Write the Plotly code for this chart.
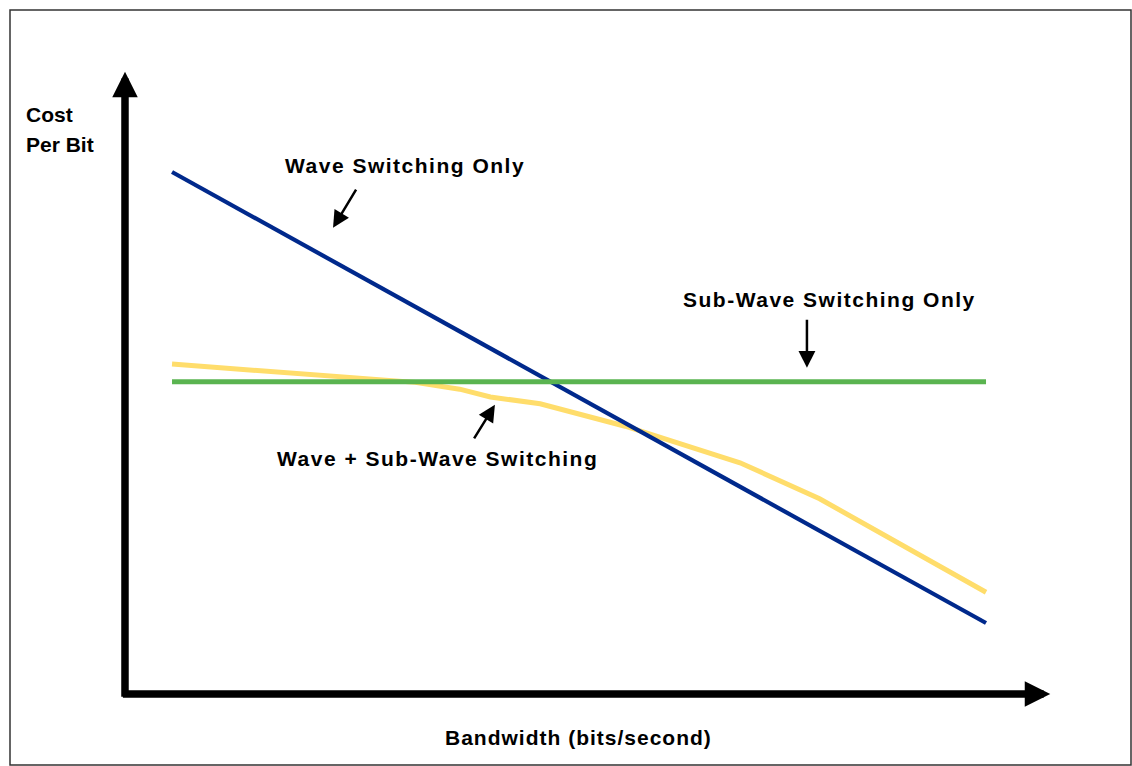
import plotly.graph_objects as go

# ---- data (conceptual units: bandwidth on x, cost per bit on y) ----
bandwidth_wave = [1.0, 10.0]
cost_wave = [10.0, 1.36]

bandwidth_sub = [1.0, 10.0]
cost_sub = [5.98, 5.98]

bandwidth_mixed = [1.0, 3.69, 4.18, 4.52, 5.07, 6.01, 7.28, 8.16, 10.0]
cost_mixed = [6.32, 5.97, 5.84, 5.69, 5.56, 5.13, 4.43, 3.74, 1.95]

label_wave = "Wave Switching Only"
label_sub = "Sub-Wave Switching Only"
label_mixed = "Wave + Sub-Wave Switching"
x_title = "Bandwidth (bits/second)"
y_title_lines = ["Cost", "Per Bit"]

FONT = "Liberation Sans, Arial, sans-serif"
NAVY = "#00298C"
GREEN = "#5AB450"
YELLOW = "#FFDD6B"

fig = go.Figure()
fig.add_trace(go.Scatter(x=bandwidth_mixed, y=cost_mixed, mode="lines",
                         line=dict(color=YELLOW, width=5), hoverinfo="skip"))
fig.add_trace(go.Scatter(x=bandwidth_wave, y=cost_wave, mode="lines",
                         line=dict(color=NAVY, width=4.2), hoverinfo="skip"))
fig.add_trace(go.Scatter(x=bandwidth_sub, y=cost_sub, mode="lines",
                         line=dict(color=GREEN, width=5), hoverinfo="skip"))


def spaced(t, sp=1.5):
    return f'<span style="letter-spacing:{sp}px">{t}</span>'


txt_font = dict(family=FONT, size=21, color="black", weight=700)

annotations = []
# axis arrows
annotations.append(dict(x=0.48, y=11.92, ax=0.48, ay=-0.08, xref="x", yref="y",
                        axref="x", ayref="y", text="", showarrow=True,
                        arrowhead=2, arrowwidth=7.5, arrowsize=0.68,
                        arrowcolor="black", standoff=0, startstandoff=0))
annotations.append(dict(x=10.71, y=0.0, ax=0.44, ay=0.0, xref="x", yref="y",
                        axref="x", ayref="y", text="", showarrow=True,
                        arrowhead=2, arrowwidth=7.5, arrowsize=0.68,
                        arrowcolor="black", standoff=0, startstandoff=0))
# pointer arrows
for (tx, ty, sx, sy) in [(2.78, 8.93, 3.045, 9.69),
                         (8.02, 6.25, 8.02, 7.20),
                         (4.57, 5.54, 4.33, 4.87)]:
    annotations.append(dict(x=tx, y=ty, ax=sx, ay=sy, xref="x", yref="y",
                            axref="x", ayref="y", text="", showarrow=True,
                            arrowhead=2, arrowwidth=2.5, arrowsize=1.35,
                            arrowcolor="black", standoff=0))
# labels
annotations.append(dict(x=3.58, y=10.13, xref="x", yref="y", text=spaced(label_wave),
                        showarrow=False, font=txt_font, xanchor="center", yanchor="middle"))
annotations.append(dict(x=8.27, y=7.55, xref="x", yref="y", text=spaced(label_sub),
                        showarrow=False, font=txt_font, xanchor="center", yanchor="middle"))
annotations.append(dict(x=3.93, y=4.52, xref="x", yref="y", text=spaced(label_mixed),
                        showarrow=False, font=txt_font, xanchor="center", yanchor="middle"))
annotations.append(dict(x=5.49, y=-0.84, xref="x", yref="y", text=spaced(x_title, 1.0),
                        showarrow=False, font=txt_font, xanchor="center", yanchor="middle"))
annotations.append(dict(x=-0.64, y=(694 - 114) / 52.2, xref="x", yref="y",
                        text=y_title_lines[0], showarrow=False, font=txt_font,
                        xanchor="left", yanchor="middle"))
annotations.append(dict(x=-0.64, y=(694 - 144) / 52.2, xref="x", yref="y",
                        text=y_title_lines[1], showarrow=False, font=txt_font,
                        xanchor="left", yanchor="middle"))

W, H = 1132, 766
fig.update_layout(
    width=W, height=H, autosize=False,
    margin=dict(l=0, r=0, t=0, b=0),
    paper_bgcolor="white", plot_bgcolor="white",
    showlegend=False,
    annotations=annotations,
    xaxis=dict(range=[-0.902, 11.614], visible=False, fixedrange=True),
    yaxis=dict(range=[-1.379, 13.295], visible=False, fixedrange=True),
    shapes=[dict(type="rect", xref="paper", yref="paper",
                 x0=10 / W, x1=1131 / W, y0=1 / H, y1=(H - 10) / H,
                 line=dict(color="#333333", width=1.5))],
)

fig.write_html("out.html", config={"displayModeBar": False},
               post_script="document.body.style.margin='0';document.body.style.overflow='hidden';")
